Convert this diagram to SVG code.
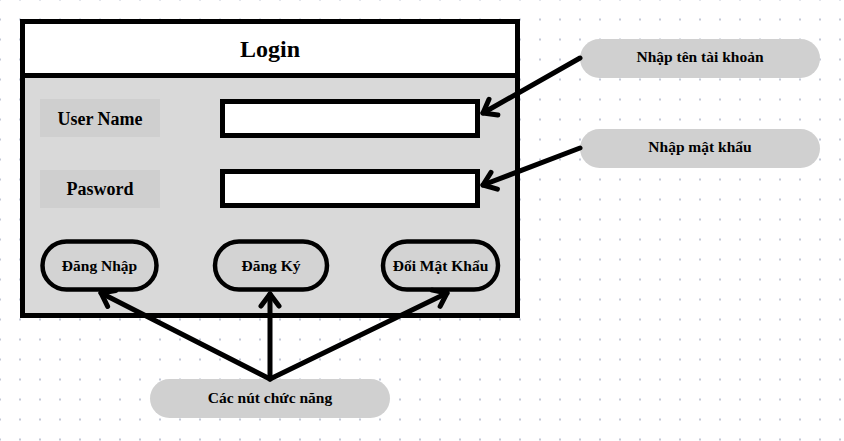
<svg xmlns="http://www.w3.org/2000/svg" width="844" height="441" viewBox="0 0 844 441">
<defs>
<pattern id="dots" x="-1" y="18.5" width="20" height="20" patternUnits="userSpaceOnUse">
<rect x="0" y="0" width="2" height="2" fill="#c3c9d8"/>
</pattern>
<marker id="ah" markerUnits="userSpaceOnUse" viewBox="-16 -14 20 28" refX="0" refY="0" markerWidth="20" markerHeight="28" orient="auto" overflow="visible">
<path d="M-12,-9 L0,0 L-12,9" fill="none" stroke="#000" stroke-width="5" stroke-linecap="round" stroke-linejoin="round"/>
</marker>
</defs>
<style>
text{font-family:"Liberation Serif","Times New Roman",serif;font-weight:700;fill:#000;text-anchor:middle}
.frame{stroke:#000;stroke-width:5}
.lbl{fill:#cfcfcf}
.inp{fill:#fff;stroke:#000;stroke-width:5}
.btn{fill:#d3d3d3;stroke:#000;stroke-width:4.5}
.pill{fill:#d0d0d0}
.conn{fill:none;stroke:#000;stroke-width:5;stroke-linecap:round;marker-end:url(#ah)}
.t15{font-size:15.5px}
.t18{font-size:18px}
.tn{font-size:15.5px}
</style>
<rect x="0" y="0" width="844" height="441" fill="#fff"/>
<rect x="0" y="0" width="844" height="441" fill="url(#dots)"/>

<g id="login-window">
<rect class="frame" x="22.5" y="75.5" width="495" height="240" fill="#d9d9d9"/>
<rect class="frame" x="22.5" y="21.5" width="495" height="54" fill="#fff"/>
<text x="270" y="57" style="font-size:24px">Login</text>
</g>

<g id="label-username">
<rect class="lbl" x="40" y="99" width="120" height="38"/>
<text class="t18" x="100" y="125">User Name</text>
</g>
<g id="input-username">
<rect class="inp" x="222.5" y="101.5" width="255" height="34"/>
</g>

<g id="label-password">
<rect class="lbl" x="40" y="170" width="120" height="38"/>
<text class="t18" x="100" y="195">Pasword</text>
</g>
<g id="input-password">
<rect class="inp" x="222.5" y="171.5" width="255" height="34"/>
</g>

<g id="btn-dangnhap">
<rect class="btn" x="42.5" y="241.5" width="114" height="48" rx="24"/>
<text class="t15" x="99.5" y="271">Đăng Nhập</text>
</g>
<g id="btn-dangky">
<rect class="btn" x="215" y="241.5" width="112" height="48" rx="24"/>
<text class="t15" x="271" y="271">Đăng Ký</text>
</g>
<g id="btn-doimatkhau">
<rect class="btn" x="383" y="241.5" width="115" height="48" rx="24"/>
<text class="t15" x="440.5" y="271">Đổi Mật Khẩu</text>
</g>

<g id="note-username">
<rect class="pill" x="580" y="39" width="240" height="39" rx="19.5"/>
<text class="tn" x="700" y="62">Nhập tên tài khoản</text>
</g>
<g id="note-password">
<rect class="pill" x="580" y="129" width="240" height="39" rx="19.5"/>
<text class="tn" x="700" y="152">Nhập mật khẩu</text>
</g>
<g id="note-buttons">
<rect class="pill" x="150" y="379" width="240" height="39" rx="19.5"/>
<text class="tn" x="270" y="403">Các nút chức năng</text>
</g>

<g id="connectors">
<line class="conn" x1="580" y1="58" x2="483" y2="113"/>
<line class="conn" x1="580" y1="148" x2="483" y2="185"/>
<line class="conn" x1="270" y1="379" x2="101" y2="293"/>
<line class="conn" x1="270" y1="379" x2="270" y2="294"/>
<line class="conn" x1="270" y1="379" x2="447" y2="293"/>
</g>
</svg>
